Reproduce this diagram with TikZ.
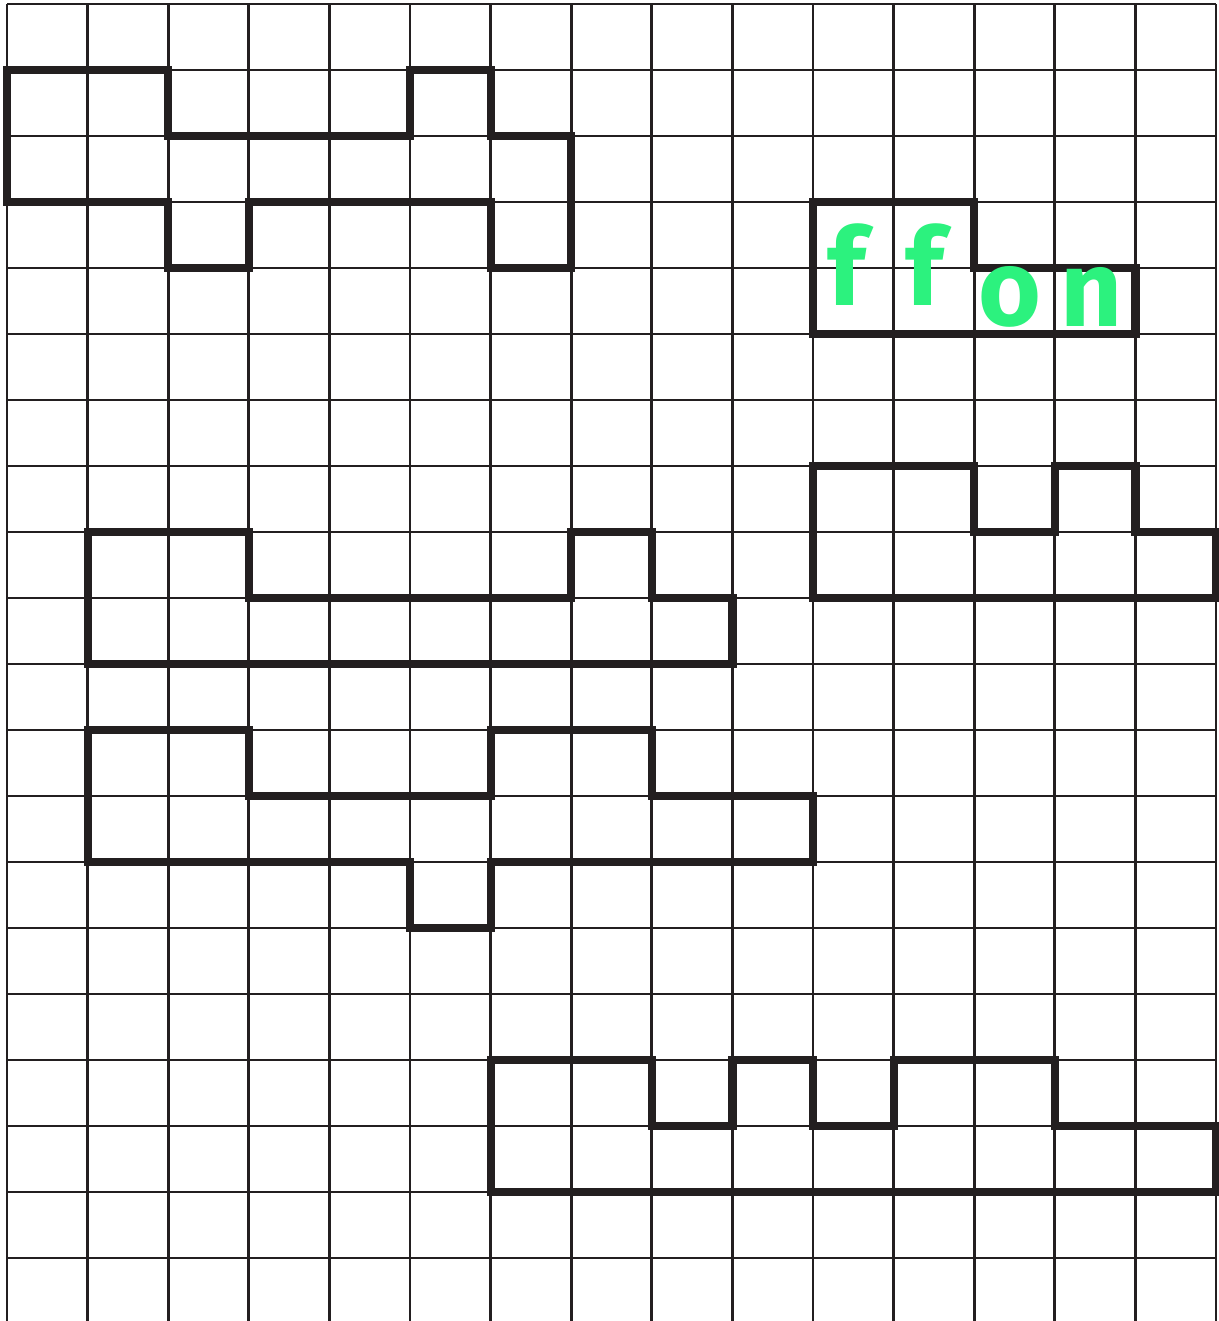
\documentclass[tikz,border=0pt]{standalone}
\usepackage{fontspec}
\setmainfont{Fira Sans}
\definecolor{gridink}{HTML}{231F20}
\definecolor{pen}{HTML}{2CF27E}
\tikzset{
  thin grid/.style={draw=gridink, line width=2.3pt},
  outline/.style={draw=gridink, line width=7pt, line join=miter},
  letter/.style={text=pen, font=\fontsize{92}{92}\selectfont\bfseries, inner sep=0pt, anchor=base}
}
\begin{document}
\begin{tikzpicture}
\useasboundingbox[fill=white] (0,0) rectangle (36.54,-39.63);
\begin{scope}[shift={(0.21,-0.12)}, x=2.418cm, y=-1.98cm]
  % grid
  \foreach \c in {0,...,15} \draw[thin grid] (\c,0) -- (\c,20);
  \foreach \r in {0,...,19} \draw[thin grid] (0,\r) -- (15,\r);
  % shape 1
  \draw[outline] (0,1) -- (2,1) -- (2,2) -- (5,2) -- (5,1) -- (6,1) -- (6,2) -- (7,2)
     -- (7,4) -- (6,4) -- (6,3) -- (3,3) -- (3,4) -- (2,4) -- (2,3) -- (0,3) -- cycle;
  % shape 2 (ffon)
  \draw[outline] (10,3) -- (12,3) -- (12,4) -- (14,4) -- (14,5) -- (10,5) -- cycle;
  % shape 3
  \draw[outline] (10,7) -- (12,7) -- (12,8) -- (13,8) -- (13,7) -- (14,7) -- (14,8)
     -- (15,8) -- (15,9) -- (10,9) -- cycle;
  % shape 4
  \draw[outline] (1,8) -- (3,8) -- (3,9) -- (7,9) -- (7,8) -- (8,8) -- (8,9) -- (9,9)
     -- (9,10) -- (1,10) -- cycle;
  % shape 5
  \draw[outline] (1,11) -- (3,11) -- (3,12) -- (6,12) -- (6,11) -- (8,11) -- (8,12)
     -- (10,12) -- (10,13) -- (6,13) -- (6,14) -- (5,14) -- (5,13) -- (1,13) -- cycle;
  % shape 6
  \draw[outline] (6,16) -- (8,16) -- (8,17) -- (9,17) -- (9,16) -- (10,16) -- (10,17)
     -- (11,17) -- (11,16) -- (13,16) -- (13,17) -- (15,17) -- (15,18) -- (6,18) -- cycle;
\end{scope}
\node[letter] (f1) at (25.4,-9.15) {f};
\node[letter] (f2) at (27.75,-9.15) {f};
\node[letter] (o1) at (30.3,-9.75) {o};
\node[letter] (n1) at (32.75,-9.8) {n};
\end{tikzpicture}
\end{document}
